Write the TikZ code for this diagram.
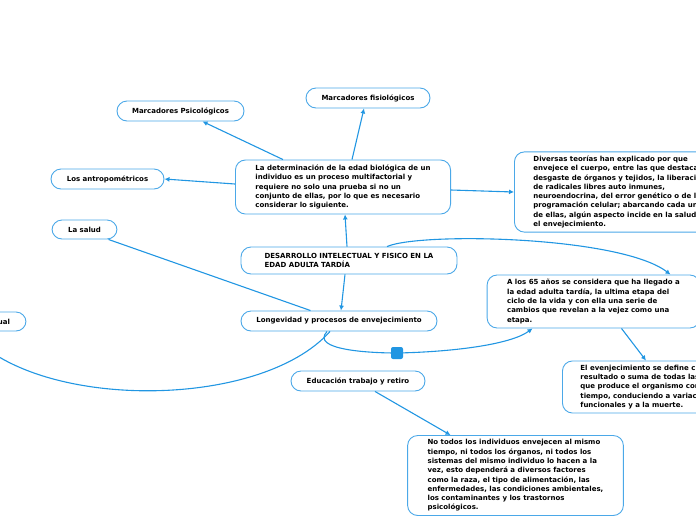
\documentclass[tikz,border=0pt]{standalone}
\usepackage{fontspec}
\setmainfont{DejaVu Sans}
\usetikzlibrary{arrows.meta,calc,positioning}
\definecolor{linkblue}{RGB}{33,150,226}
\definecolor{boxblue}{RGB}{75,168,232}

\begin{document}
\begin{tikzpicture}[x=1pt,y=-1pt,
  topic/.style={draw=boxblue,line width=0.9pt,rounded corners=10pt,fill=white,
    font=\bfseries\fontsize{7}{9.3}\selectfont,inner xsep=12pt,inner ysep=4pt},
  note/.style={topic,align=left,inner xsep=20pt},
  link/.style={draw=linkblue,line width=1.1pt,-{Latex[length=5pt,width=5pt]}},
  line/.style={draw=linkblue,line width=1.1pt}]
\useasboundingbox (0,0) rectangle (696,520);
\clip (0,0) rectangle (696,520);
% main topic and its notes
\node (main) [note,minimum width=216pt,minimum height=27pt] at (349,260.5) {DESARROLLO INTELECTUAL Y FISICO EN LA\\EDAD ADULTA TARDÍA};
\node (det) [note,minimum width=214pt,minimum height=54pt] at (343,187) {La determinación de la edad biológica de un\\individuo es un proceso multifactorial y\\requiere no solo una prueba si no un\\conjunto de ellas, por lo que es necesario\\considerar lo siguiente.};
\node (psi) [topic,minimum width=127pt,minimum height=20pt] at (180.5,111) {Marcadores Psicológicos};
\node (fis) [topic,minimum width=124pt,minimum height=20pt] at (368,98) {Marcadores fisiológicos};
\node (antro) [topic,minimum width=113pt,minimum height=20pt] at (107.5,179) {Los antropométricos};
\node (teorias) [note,minimum height=78pt,anchor=west,inner xsep=19pt] at (514,192) {Diversas teorías han explicado por que\\envejece el cuerpo, entre las que destaca\\desgaste de órganos y tejidos, la liberació\\de radicales libres auto inmunes,\\neuroendocrina, del error genético o de la\\programación celular; abarcando cada un\\de ellas, algún aspecto incide en la salud\\el envejecimiento.};
\node (salud) [topic,minimum width=65pt,minimum height=19pt] at (84.5,229.5) {La salud};
\node (a65) [note,minimum width=207pt,minimum height=53pt] at (593.5,301.5) {A los 65 años se considera que ha llegado a\\la edad adulta tardía, la ultima etapa del\\ciclo de la vida y con ella una serie de\\cambios que revelan a la vejez como una\\etapa.};
\node (long) [topic,minimum width=196pt,minimum height=20pt] at (339,321) {Longevidad y procesos de envejecimiento};
\node (ual) [topic,text width=84pt,align=right,inner xsep=16pt,minimum height=19pt] at (-32,321.5) {ual};
\node (env) [note,minimum height=52pt,anchor=west,inner xsep=18pt] at (562,387) {El evenjecimiento se define c\\resultado o suma de todas las\\que produce el organismo cor\\tiempo, conduciendo a variac\\funcionales y a la muerte.};
\node (edu) [topic,minimum width=134pt,minimum height=20pt] at (358,381) {Educación trabajo y retiro};
\node (notodos) [note,minimum width=213pt,minimum height=79pt] at (515.5,475.5) {No todos los individuos envejecen al mismo\\tiempo, ni todos los órganos, ni todos los\\sistemas del mismo individuo lo hacen a la\\vez, esto dependerá a diversos factores\\como la raza, el tipo de alimentación, las\\enfermedades, las condiciones ambientales,\\los contaminantes y los trastornos\\psicológicos.};
\node (knob) [fill=linkblue,rounded corners=2pt,minimum size=12pt,inner sep=0pt] at (397,353) {};
% connectors
\draw[link] ([xshift=-2pt]main.north) -- ([xshift=2pt]det.south);
\draw[link] ([xshift=-4pt]main.south) -- ([xshift=2pt]long.north);
\draw[link] ([xshift=-60pt]det.north) -- ([xshift=22pt]psi.south);
\draw[link] ([xshift=9pt]det.north) -- ([xshift=-4pt]fis.south);
\draw[link] ([yshift=3pt]det.west) -- (antro.east);
\draw[link] ([yshift=-3pt]det.east) -- ([yshift=0pt]teorias.west);
\draw[link] ([xshift=38pt]main.north) .. controls (420,232) and (620,236) .. ([xshift=77pt]a65.north);
\draw[link] ([xshift=-12pt]long.south) .. controls (310,350) and (370,353) .. (knob.center) .. controls (450,352) and (510,345) .. ([xshift=-61pt]a65.south);
\draw[link] ([xshift=-9pt]long.south) .. controls (260,410) and (40,410) .. (ual.south);
\draw[line] ([xshift=-9pt]salud.south east) -- ([xshift=70pt]long.north west);
\draw[link] ([xshift=28pt]a65.south) -- ([xshift=84pt]env.north west);
\draw[link] ([xshift=17pt]edu.south) -- ([xshift=-65pt]notodos.north);
\end{tikzpicture}
\end{document}
